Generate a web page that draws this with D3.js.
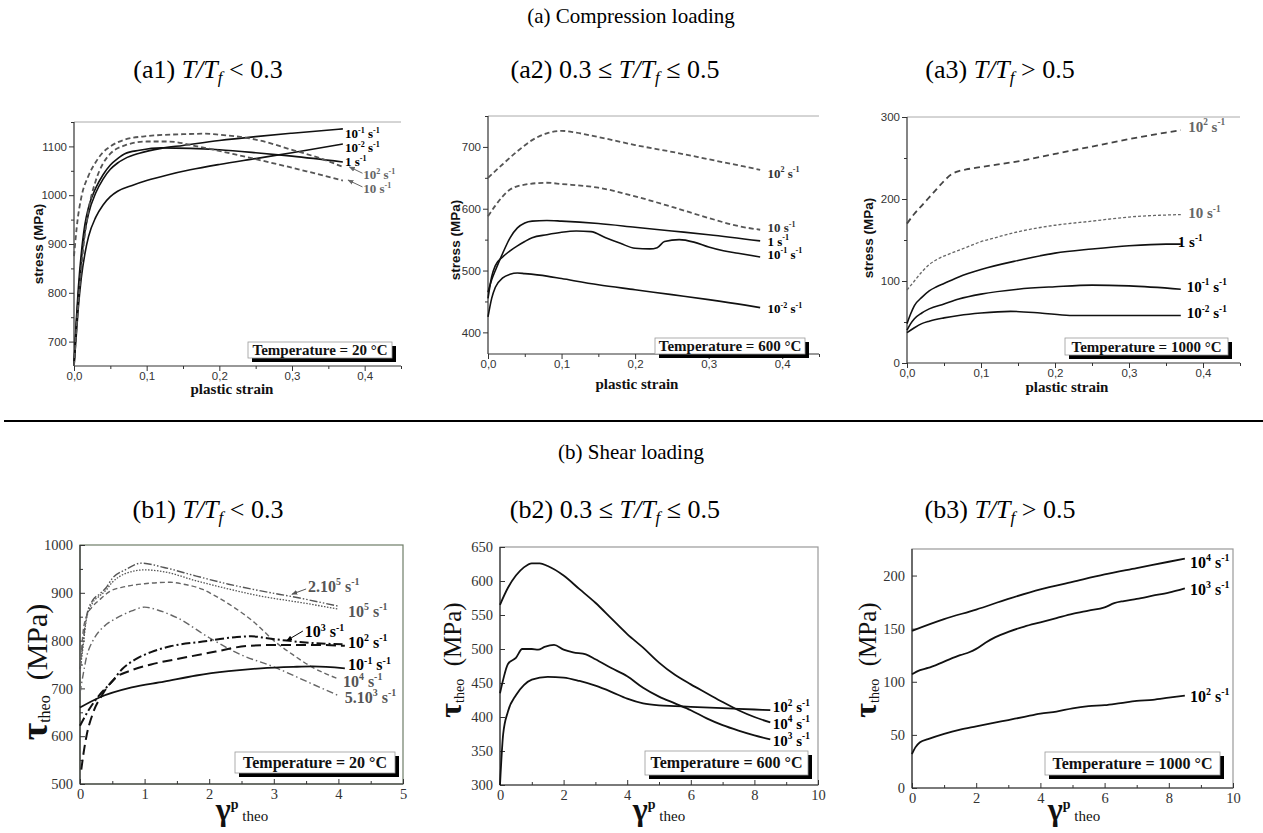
<!DOCTYPE html>
<html>
<head>
<meta charset="utf-8">
<script src="https://cdn.jsdelivr.net/npm/d3@7"></script>
<style>
body { margin: 0; background: #fff; }
svg { display: block; }
</style>
</head>
<body>
<svg id="fig" width="1263" height="833"></svg>
<script>
// ===== DATA =====
// (a1) compression, 20 °C  [plastic strain, stress MPa]
const a1Rate1em1 = [[0,650],[0.003,730],[0.006,795],[0.01,865],[0.015,925],[0.02,962],[0.03,1005],[0.04,1033],[0.05,1053],[0.06,1066],[0.07,1075],[0.09,1086],[0.12,1096],[0.15,1102],[0.2,1112],[0.25,1120],[0.3,1127],[0.37,1136]];
const a1Rate1em2 = [[0,650],[0.003,710],[0.006,770],[0.01,830],[0.015,880],[0.02,915],[0.03,955],[0.04,980],[0.05,997],[0.06,1008],[0.08,1020],[0.1,1030],[0.13,1042],[0.16,1052],[0.2,1063],[0.25,1075],[0.3,1087],[0.37,1105]];
const a1Rate1 = [[0,650],[0.003,740],[0.006,810],[0.01,880],[0.015,940],[0.02,975],[0.03,1015],[0.04,1042],[0.05,1062],[0.06,1075],[0.07,1085],[0.09,1092],[0.12,1097],[0.16,1096],[0.2,1093],[0.25,1087],[0.3,1080],[0.37,1068]];
const a1Rate1e2 = [[0,875],[0.005,950],[0.01,995],[0.02,1040],[0.03,1068],[0.04,1088],[0.05,1100],[0.07,1114],[0.1,1121],[0.15,1125],[0.18,1126],[0.2,1124],[0.25,1114],[0.3,1093],[0.34,1075],[0.37,1058]];
const a1Rate10 = [[0,650],[0.005,760],[0.01,850],[0.015,920],[0.02,970],[0.03,1030],[0.04,1065],[0.05,1085],[0.07,1102],[0.1,1110],[0.13,1110],[0.17,1100],[0.22,1084],[0.27,1067],[0.32,1049],[0.37,1030]];

// (a2) compression, 600 °C
const a2Rate1e2 = [[0,650],[0.02,672],[0.04,693],[0.06,711],[0.08,722],[0.1,726],[0.12,723],[0.15,716],[0.2,703],[0.25,692],[0.3,680],[0.37,663]];
const a2Rate10 = [[0,588],[0.01,605],[0.02,620],[0.03,631],[0.05,639],[0.08,642],[0.1,640],[0.15,634],[0.2,620],[0.25,603],[0.3,585],[0.34,572],[0.37,566]];
const a2Rate1 = [[0,465],[0.005,485],[0.01,500],[0.02,528],[0.03,553],[0.04,569],[0.05,577],[0.06,580],[0.08,581],[0.1,580],[0.15,576],[0.2,570],[0.25,564],[0.3,558],[0.37,548]];
const a2Rate1em1 = [[0,455],[0.005,490],[0.01,508],[0.02,522],[0.03,532],[0.04,540],[0.05,547],[0.06,553],[0.08,558],[0.1,562],[0.12,564],[0.14,563],[0.16,553],[0.18,544],[0.2,536],[0.22,535],[0.23,537],[0.24,547],[0.26,550],[0.28,546],[0.3,538],[0.32,532],[0.34,528],[0.37,522]];
const a2Rate1em2 = [[0,425],[0.005,455],[0.01,473],[0.02,488],[0.03,494],[0.04,496],[0.05,495],[0.08,491],[0.1,487],[0.15,477],[0.2,469],[0.25,461],[0.3,453],[0.35,444],[0.37,440]];

// (a3) compression, 1000 °C
const a3Rate1e2 = [[0,170],[0.01,182],[0.02,192],[0.03,202],[0.04,212],[0.05,222],[0.06,230],[0.07,234],[0.08,236],[0.1,239],[0.15,246],[0.2,255],[0.25,264],[0.3,273],[0.35,281],[0.37,284]];
const a3Rate10 = [[0,89],[0.01,100],[0.02,111],[0.03,120],[0.04,126],[0.06,134],[0.08,141],[0.1,148],[0.12,153],[0.15,160],[0.2,168],[0.25,173],[0.3,178],[0.37,181]];
const a3Rate1 = [[0,48],[0.005,60],[0.01,70],[0.02,80],[0.03,88],[0.04,93],[0.05,97],[0.07,105],[0.1,114],[0.15,125],[0.2,134],[0.25,139],[0.3,143],[0.35,145],[0.37,145]];
const a3Rate1em1 = [[0,40],[0.005,48],[0.01,54],[0.02,61],[0.03,66],[0.05,72],[0.07,78],[0.1,84],[0.15,90],[0.2,93],[0.25,95],[0.3,94],[0.37,90]];
const a3Rate1em2 = [[0,37],[0.01,43],[0.02,48],[0.03,51],[0.05,55],[0.07,58],[0.1,61],[0.14,63],[0.18,61],[0.22,58],[0.3,58],[0.37,58]];

// (b1) shear, 20 °C  [gamma_p theo, tau theo MPa]
const b1Rate2e5 = [[0,740],[0.05,800],[0.1,850],[0.2,885],[0.3,897],[0.4,910],[0.5,930],[0.7,948],[0.95,962],[1.3,953],[1.8,935],[2.3,918],[2.8,904],[3.4,889],[4.0,872]];
const b1Rate1e5 = [[0,735],[0.05,790],[0.1,845],[0.2,880],[0.3,893],[0.4,905],[0.5,922],[0.7,940],[1.0,948],[1.3,944],[1.8,925],[2.3,908],[2.8,893],[3.4,880],[4.0,866]];
const b1Rate1e4 = [[0,730],[0.05,820],[0.1,850],[0.2,872],[0.3,885],[0.45,902],[0.7,913],[1.0,919],[1.4,922],[1.6,918],[1.9,907],[2.1,893],[2.4,868],[2.7,838],[3.0,800],[3.3,770],[3.6,744],[4.0,720]];
const b1Rate5e3 = [[0,690],[0.05,730],[0.1,765],[0.2,800],[0.3,820],[0.4,833],[0.55,846],[0.8,862],[1.0,870],[1.2,864],[1.5,848],[2.0,806],[2.5,770],[3.0,745],[3.5,715],[4.0,685]];
const b1Rate1e3 = [[0,622],[0.15,658],[0.3,686],[0.5,715],[0.65,740],[0.85,760],[1.1,776],[1.4,788],[1.9,798],[2.4,807],[2.65,809],[2.9,805],[3.2,800],[3.6,795],[4.1,792]];
const b1Rate1e2 = [[0.02,530],[0.05,560],[0.1,600],[0.2,648],[0.35,688],[0.55,722],[0.8,738],[1.1,750],[1.6,764],[2.1,777],[2.6,789],[3.1,791],[3.6,791],[4.1,789]];
const b1Rate1em1 = [[0,660],[0.3,681],[0.8,702],[1.3,714],[1.8,727],[2.3,736],[2.8,742],[3.3,745],[3.6,746],[4.1,742]];

// (b2) shear, 600 °C
const b2Rate1e4 = [[0,565],[0.25,590],[0.5,608],[0.75,620],[1.0,626],[1.25,626],[1.5,622],[2.0,608],[2.5,588],[3.0,568],[3.5,545],[4.0,522],[4.5,502],[5.0,480],[5.5,462],[6.0,448],[6.5,435],[7.0,422],[7.5,410],[8.0,400],[8.5,392]];
const b2Rate1e3 = [[0,435],[0.1,455],[0.25,478],[0.5,487],[0.7,500],[1.0,500],[1.2,499],[1.4,503],[1.7,506],[2.0,499],[2.3,495],[2.7,492],[3.0,485],[3.5,472],[4.0,460],[4.5,443],[5.0,430],[5.5,420],[6.0,410],[6.5,398],[7.0,388],[7.5,380],[8.0,373],[8.5,367]];
const b2Rate1e2 = [[0,300],[0.1,375],[0.25,408],[0.5,432],[0.75,447],[1.0,455],[1.5,459],[2.0,458],[2.5,453],[3.0,446],[3.5,437],[4.0,427],[4.5,420],[5.0,417],[5.5,416],[6.0,415],[7.0,413],[8.0,411],[8.5,410]];

// (b3) shear, 1000 °C
const b3Rate1e4 = [[0,148],[1,159],[2,168],[3,178],[4,187],[5,194],[6,201],[7,207],[8,213],[8.5,216]];
const b3Rate1e3 = [[0,107],[0.25,111],[0.5,113],[1.0,119],[1.5,125],[1.8,128],[2.0,131],[2.3,137],[2.6,142],[3.0,147],[3.5,152],[4.0,156],[4.5,160],[5.0,164],[5.5,167],[6.0,170],[6.3,174],[6.6,176],[7.0,178],[7.5,181],[8.0,184],[8.5,188]];
const b3Rate1e2 = [[0,32],[0.1,38],[0.25,43],[0.5,46],[1.0,51],[1.5,55],[2.0,58],[2.5,61],[3.0,64],[3.5,67],[4.0,70],[4.5,72],[5.0,75],[5.5,77],[6.0,78],[6.5,80],[7.0,82],[7.5,83],[8.0,85],[8.5,87]];

// tick values
const strainTicks = [0, 0.1, 0.2, 0.3, 0.4];
const strainMinor = [0.05, 0.15, 0.25, 0.35, 0.45];
const a1StressTicks = [700, 800, 900, 1000, 1100];
const a1StressMinor = [750, 850, 950, 1050, 1150];
const a2StressTicks = [400, 500, 600, 700];
const a2StressMinor = [450, 550, 650, 750];
const a3StressTicks = [0, 100, 200, 300];
const a3StressMinor = [50, 150, 250];
const b1GammaTicks = [0, 1, 2, 3, 4, 5];
const b1GammaMinor = [0.5, 1.5, 2.5, 3.5, 4.5];
const b1TauTicks = [500, 600, 700, 800, 900, 1000];
const b1TauMinor = [550, 650, 750, 850, 950];
const b23GammaTicks = [0, 2, 4, 6, 8, 10];
const b23GammaMinor = [1, 3, 5, 7, 9];
const b2TauTicks = [300, 350, 400, 450, 500, 550, 600, 650];
const b3TauTicks = [0, 50, 100, 150, 200];

// ===== STYLES =====
const serif = '"Liberation Serif", "Times New Roman", serif';
const sans = '"Liberation Sans", Arial, sans-serif';

const lineStyles = {
    solid:    { stroke: '#111', width: 1.6, dash: null },
    dashA:    { stroke: '#555', width: 1.8, dash: '5,3' },
    dashA3:   { stroke: '#444', width: 1.8, dash: '6,4' },
    shortA3:  { stroke: '#666', width: 1.3, dash: '3,2' },
    dd:       { stroke: '#555', width: 1.4, dash: '8,2,1.5,2,1.5,2' },
    dot:      { stroke: '#555', width: 1.3, dash: '1.5,1.5' },
    dashGray: { stroke: '#666', width: 1.4, dash: '5,3' },
    dotDash:  { stroke: '#666', width: 1.4, dash: '7,3,1.5,3' },
    dashDotK: { stroke: '#111', width: 2.0, dash: '9,3,2,3' },
    longK:    { stroke: '#111', width: 2.0, dash: '10,5' },
    solidB:   { stroke: '#111', width: 1.8, dash: null }
};

const commaFmt = d => d3.format('.1f')(d).replace('.', ',');

const panels = [
    {
        id: 'a1', kind: 'a', left: 74, right: 401, top: 122, bottom: 366,
        xDomain: [0, 0.45], yDomain: [650, 1150],
        xTicks: strainTicks, xMinor: strainMinor, yTicks: a1StressTicks, yMinor: a1StressMinor,
        series: [
            { data: a1Rate1em1, style: 'solid' },
            { data: a1Rate1em2, style: 'solid' },
            { data: a1Rate1, style: 'solid' },
            { data: a1Rate1e2, style: 'dashA' },
            { data: a1Rate10, style: 'dashA' }
        ],
        labels: [
            { t: '10^{-1} s^{-1}', at: [0.373, 1117], c: '#000' },
            { t: '10^{-2} s^{-1}', at: [0.373, 1088], c: '#000' },
            { t: '1 s^{-1}', at: [0.373, 1059], c: '#000' },
            { t: '10^{2} s^{-1}', at: [0.398, 1033], c: '#666' },
            { t: '10 s^{-1}', at: [0.398, 1004], c: '#666' }
        ],
        labelSize: 13,
        arrows: [
            { from: [0.397, 1045], to: [0.379, 1058], c: '#666' },
            { from: [0.397, 1017], to: [0.377, 1031], c: '#666' }
        ],
        legend: { x: 248, y: 342, w: 144, h: 16, text: 'Temperature = 20 °C', size: 15 },
        yTitle: { x: 43, y: 244 }, xTitle: { x: 232, y: 394 }
    },
    {
        id: 'a2', kind: 'a', left: 488, right: 819, top: 116, bottom: 354,
        xDomain: [0, 0.45], yDomain: [365, 750],
        xTicks: strainTicks, xMinor: strainMinor, yTicks: a2StressTicks, yMinor: a2StressMinor,
        series: [
            { data: a2Rate1e2, style: 'dashA' },
            { data: a2Rate10, style: 'dashA' },
            { data: a2Rate1, style: 'solid' },
            { data: a2Rate1em1, style: 'solid' },
            { data: a2Rate1em2, style: 'solid' }
        ],
        labels: [
            { t: '10^{2} s^{-1}', at: [0.38, 650], c: '#333' },
            { t: '10 s^{-1}', at: [0.38, 562], c: '#333' },
            { t: '1 s^{-1}', at: [0.38, 540], c: '#000' },
            { t: '10^{-1} s^{-1}', at: [0.38, 519], c: '#000' },
            { t: '10^{-2} s^{-1}', at: [0.38, 431], c: '#000' }
        ],
        labelSize: 13,
        arrows: [],
        legend: { x: 655, y: 338, w: 150, h: 16, text: 'Temperature = 600 °C', size: 15 },
        yTitle: { x: 460, y: 240 }, xTitle: { x: 637, y: 389 }
    },
    {
        id: 'a3', kind: 'a', left: 907, right: 1240, top: 117, bottom: 363,
        xDomain: [0, 0.45], yDomain: [0, 300],
        xTicks: strainTicks, xMinor: strainMinor, yTicks: a3StressTicks, yMinor: a3StressMinor,
        series: [
            { data: a3Rate1e2, style: 'dashA3' },
            { data: a3Rate10, style: 'shortA3' },
            { data: a3Rate1, style: 'solid' },
            { data: a3Rate1em1, style: 'solid' },
            { data: a3Rate1em2, style: 'solid' }
        ],
        labels: [
            { t: '10^{2} s^{-1}', at: [0.38, 282], c: '#666' },
            { t: '10 s^{-1}', at: [0.38, 177], c: '#666' },
            { t: '1 s^{-1}', at: [0.366, 141], c: '#000' },
            { t: '10^{-1} s^{-1}', at: [0.378, 87], c: '#000' },
            { t: '10^{-2} s^{-1}', at: [0.378, 55], c: '#000' }
        ],
        labelSize: 15,
        arrows: [],
        legend: { x: 1065, y: 338, w: 163, h: 17, text: 'Temperature = 1000 °C', size: 15 },
        yTitle: { x: 873, y: 238 }, xTitle: { x: 1067, y: 392 }
    },
    {
        id: 'b1', kind: 'b', left: 80, right: 403, top: 545, bottom: 784,
        xDomain: [0, 5], yDomain: [500, 1000], frame: '#6e7d68',
        xTicks: b1GammaTicks, xMinor: b1GammaMinor, yTicks: b1TauTicks, yMinor: b1TauMinor,
        series: [
            { data: b1Rate2e5, style: 'dd' },
            { data: b1Rate1e5, style: 'dot' },
            { data: b1Rate1e4, style: 'dashGray' },
            { data: b1Rate5e3, style: 'dotDash' },
            { data: b1Rate1e3, style: 'dashDotK' },
            { data: b1Rate1e2, style: 'longK' },
            { data: b1Rate1em1, style: 'solidB' }
        ],
        labels: [
            { t: '2.10^{5} s^{-1}', at: [3.53, 902], c: '#555' },
            { t: '10^{5} s^{-1}', at: [4.15, 849], c: '#555' },
            { t: '10^{3} s^{-1}', at: [3.48, 807], c: '#000' },
            { t: '10^{2} s^{-1}', at: [4.15, 785], c: '#000' },
            { t: '10^{-1} s^{-1}', at: [4.15, 738], c: '#000' },
            { t: '10^{4} s^{-1}', at: [4.07, 703], c: '#555' },
            { t: '5.10^{3} s^{-1}', at: [4.10, 669], c: '#555' }
        ],
        labelSize: 16,
        arrows: [
            { from: [3.50, 908], to: [3.28, 897], c: '#555' },
            { from: [3.45, 820], to: [3.20, 800], c: '#000' }
        ],
        legend: { x: 235, y: 752, w: 160, h: 21, text: 'Temperature = 20 °C', size: 16 },
        yTitle: { x: 47, y: 672, tau: 38, sub: 16, unit: 30 }, xTitle: { x: 242, y: 820 }
    },
    {
        id: 'b2', kind: 'b', left: 500, right: 818, top: 547, bottom: 785,
        xDomain: [0, 10], yDomain: [300, 650], frame: '#999',
        xTicks: b23GammaTicks, xMinor: b23GammaMinor, yTicks: b2TauTicks, yMinor: [],
        series: [
            { data: b2Rate1e4, style: 'solidB' },
            { data: b2Rate1e3, style: 'solidB' },
            { data: b2Rate1e2, style: 'solidB' }
        ],
        labels: [
            { t: '10^{2} s^{-1}', at: [8.58, 407], c: '#000' },
            { t: '10^{4} s^{-1}', at: [8.58, 383], c: '#000' },
            { t: '10^{3} s^{-1}', at: [8.58, 358], c: '#000' }
        ],
        labelSize: 15,
        arrows: [],
        legend: { x: 645, y: 751, w: 163, h: 24, text: 'Temperature = 600 °C', size: 16 },
        yTitle: { x: 461, y: 660, tau: 32, sub: 14, unit: 25 }, xTitle: { x: 659, y: 820 }
    },
    {
        id: 'b3', kind: 'b', left: 912, right: 1233, top: 549, bottom: 788,
        xDomain: [0, 10], yDomain: [0, 225], frame: '#999',
        xTicks: b23GammaTicks, xMinor: b23GammaMinor, yTicks: b3TauTicks, yMinor: [],
        series: [
            { data: b3Rate1e4, style: 'solidB' },
            { data: b3Rate1e3, style: 'solidB' },
            { data: b3Rate1e2, style: 'solidB' }
        ],
        labels: [
            { t: '10^{4} s^{-1}', at: [8.66, 207], c: '#000' },
            { t: '10^{3} s^{-1}', at: [8.66, 182], c: '#000' },
            { t: '10^{2} s^{-1}', at: [8.66, 81], c: '#000' }
        ],
        labelSize: 16,
        arrows: [],
        legend: { x: 1045, y: 752, w: 175, h: 23, text: 'Temperature = 1000 °C', size: 16 },
        yTitle: { x: 876, y: 660, tau: 32, sub: 14, unit: 25 }, xTitle: { x: 1074, y: 820 }
    }
];

// ===== HELPERS =====
const svg = d3.select('#fig');

svg.append('defs').append('marker')
    .attr('id', 'arr')
    .attr('viewBox', '0 0 10 10')
    .attr('refX', 9).attr('refY', 5)
    .attr('markerWidth', 6).attr('markerHeight', 6)
    .attr('markerUnits', 'userSpaceOnUse')
    .attr('orient', 'auto')
    .append('path')
    .attr('d', 'M0,1L10,5L0,9z')
    .attr('fill', 'context-stroke');

// "10^{-1} s^{-1}" -> segments
function parseRate(str) {
    return str.split(/(\^\{[^}]*\})/).filter(s => s.length).map(s =>
        s.startsWith('^{') ? { t: s.slice(2, -1), sup: true } : { t: s.replace(/ /g, '\u00a0') });
}

function addSegs(textSel, segs, size) {
    let shift = 0;
    segs.forEach(s => {
        const fs = s.size || ((s.sup || s.sub) ? size * 0.62 : size);
        const target = s.sup ? -(s.raise || size * 0.42) : s.sub ? (s.drop || size * 0.22) : 0;
        const ts = textSel.append('tspan')
            .attr('font-size', fs)
            .attr('dy', target - shift)
            .text(s.t);
        shift = target;
        if (s.italic) ts.attr('font-style', 'italic');
        if (s.bold !== undefined) ts.attr('font-weight', s.bold ? 'bold' : 'normal');
    });
}

function drawPanel(p) {
    const g = svg.append('g').attr('class', 'panel-' + p.id);
    const x = d3.scaleLinear().domain(p.xDomain).range([p.left, p.right]);
    const y = d3.scaleLinear().domain(p.yDomain).range([p.bottom, p.top]);
    const isB = p.kind === 'b';
    const dir = isB ? -1 : 1;

    // frame
    if (isB) {
        g.append('rect')
            .attr('x', p.left).attr('y', p.top)
            .attr('width', p.right - p.left).attr('height', p.bottom - p.top)
            .attr('fill', 'none').attr('stroke', p.frame).attr('stroke-width', 1.2);
    } else {
        g.append('line')
            .attr('x1', p.left).attr('x2', p.right)
            .attr('y1', p.top).attr('y2', p.top)
            .attr('stroke', '#aaa').attr('stroke-width', 1);
    }

    // minor ticks
    g.append('g').attr('transform', `translate(0,${p.bottom})`)
        .call(d3.axisBottom(x).tickValues(p.xMinor).tickSize(3 * dir).tickFormat(''));
    g.append('g').attr('transform', `translate(${p.left},0)`)
        .call(d3.axisLeft(y).tickValues(p.yMinor).tickSize(3 * dir).tickFormat(''));

    // major ticks
    g.append('g').attr('class', 'xax').attr('transform', `translate(0,${p.bottom})`)
        .call(d3.axisBottom(x).tickValues(p.xTicks).tickSize(5 * dir)
            .tickPadding(isB ? 5 : 1).tickFormat(isB ? d3.format('d') : commaFmt));
    g.append('g').attr('class', 'yax').attr('transform', `translate(${p.left},0)`)
        .call(d3.axisLeft(y).tickValues(p.yTicks).tickSize(5 * dir)
            .tickPadding(isB ? 7 : 2).tickFormat(d3.format('d')));

    g.selectAll('.domain').remove();
    g.selectAll('.tick line').attr('stroke', '#333');
    g.selectAll('.tick text')
        .attr('font-family', isB ? serif : sans)
        .attr('font-size', isB ? 14.5 : 11.5)
        .attr('fill', '#333');

    // axis lines
    g.append('line').attr('x1', p.left).attr('x2', p.left).attr('y1', p.top).attr('y2', p.bottom)
        .attr('stroke', '#333').attr('stroke-width', 1.2);
    g.append('line').attr('x1', p.left).attr('x2', p.right).attr('y1', p.bottom).attr('y2', p.bottom)
        .attr('stroke', '#333').attr('stroke-width', 1.2);

    // curves
    const line = d3.line().x(d => x(d[0])).y(d => y(d[1])).curve(d3.curveMonotoneX);
    p.series.forEach(s => {
        const st = lineStyles[s.style];
        g.append('path')
            .attr('d', line(s.data))
            .attr('fill', 'none')
            .attr('stroke', st.stroke)
            .attr('stroke-width', st.width)
            .attr('stroke-dasharray', st.dash)
            .attr('stroke-linejoin', 'round');
    });

    // arrows
    p.arrows.forEach(a => {
        g.append('line')
            .attr('x1', x(a.from[0])).attr('y1', y(a.from[1]))
            .attr('x2', x(a.to[0])).attr('y2', y(a.to[1]))
            .attr('stroke', a.c).attr('stroke-width', 1)
            .attr('marker-end', 'url(#arr)');
    });

    // curve labels
    p.labels.forEach(l => {
        const t = g.append('text')
            .attr('x', x(l.at[0])).attr('y', y(l.at[1]))
            .attr('font-family', serif).attr('font-weight', 'bold')
            .attr('fill', l.c);
        addSegs(t, parseRate(l.t), p.labelSize);
    });

    // legend box with shadow
    const L = p.legend;
    g.append('rect').attr('x', L.x + 4).attr('y', L.y + 4)
        .attr('width', L.w).attr('height', L.h).attr('fill', '#000');
    g.append('rect').attr('x', L.x).attr('y', L.y)
        .attr('width', L.w).attr('height', L.h)
        .attr('fill', '#fff').attr('stroke', '#999').attr('stroke-width', 0.8);
    g.append('text')
        .attr('x', L.x + L.w / 2).attr('y', L.y + L.h / 2 + L.size * 0.34)
        .attr('text-anchor', 'middle')
        .attr('font-family', serif).attr('font-weight', 'bold')
        .attr('font-size', L.size).attr('fill', '#111')
        .text(L.text);

    // axis titles
    if (isB) {
        const Y = p.yTitle;
        const yt = g.append('text')
            .attr('transform', `translate(${Y.x},${Y.y}) rotate(-90)`)
            .attr('text-anchor', 'middle')
            .attr('font-family', serif).attr('fill', '#111');
        addSegs(yt, [
            { t: 'τ', size: Y.tau, bold: true },
            { t: 'theo', size: Y.sub, sub: true, drop: 3 },
            { t: '\u00a0\u00a0(MPa)', size: Y.unit }
        ], Y.unit);
        const xt = g.append('text')
            .attr('x', p.xTitle.x).attr('y', p.xTitle.y)
            .attr('text-anchor', 'middle')
            .attr('font-family', serif).attr('fill', '#111');
        addSegs(xt, [
            { t: 'γ', size: 32, bold: true },
            { t: 'p', size: 14, bold: true, sup: true, raise: 11 },
            { t: '\u00a0theo', size: 15, sub: true, drop: 1 }
        ], 24);
    } else {
        g.append('text')
            .attr('transform', `translate(${p.yTitle.x},${p.yTitle.y}) rotate(-90)`)
            .attr('text-anchor', 'middle')
            .attr('font-family', sans).attr('font-weight', 'bold')
            .attr('font-size', 13.5).attr('fill', '#111')
            .text('stress (MPa)');
        g.append('text')
            .attr('x', p.xTitle.x).attr('y', p.xTitle.y)
            .attr('text-anchor', 'middle')
            .attr('font-family', serif).attr('font-weight', 'bold')
            .attr('font-size', 15).attr('fill', '#111')
            .text('plastic strain');
    }
}

// ===== FIGURE TITLES =====
function heading(xc, yb, str, size) {
    svg.append('text').attr('x', xc).attr('y', yb)
        .attr('text-anchor', 'middle')
        .attr('font-family', serif).attr('font-size', size).attr('fill', '#000')
        .text(str);
}

function subTitle(xc, yb, pre, rel) {
    const t = svg.append('text').attr('x', xc).attr('y', yb)
        .attr('text-anchor', 'middle')
        .attr('font-family', serif).attr('fill', '#000');
    addSegs(t, [
        { t: pre },
        { t: 'T/T', italic: true },
        { t: 'f', italic: true, sub: true, drop: 5, size: 17 },
        { t: rel }
    ], 26);
}

heading(631, 23, '(a) Compression loading', 21);
subTitle(208, 78, '(a1)\u00a0', '\u00a0<\u00a00.3');
subTitle(615, 78, '(a2) 0.3\u00a0≤\u00a0', '\u00a0≤\u00a00.5');
subTitle(1000, 78, '(a3)\u00a0', '\u00a0>\u00a00.5');

svg.append('line').attr('x1', 4).attr('x2', 1263).attr('y1', 421).attr('y2', 421)
    .attr('stroke', '#000').attr('stroke-width', 2);

heading(631, 459, '(b) Shear loading', 21);
subTitle(208, 518, '(b1)\u00a0', '\u00a0<\u00a00.3');
subTitle(615, 518, '(b2) 0.3\u00a0≤\u00a0', '\u00a0≤\u00a00.5');
subTitle(1000, 518, '(b3)\u00a0', '\u00a0>\u00a00.5');

panels.forEach(drawPanel);
</script>
</body>
</html>
